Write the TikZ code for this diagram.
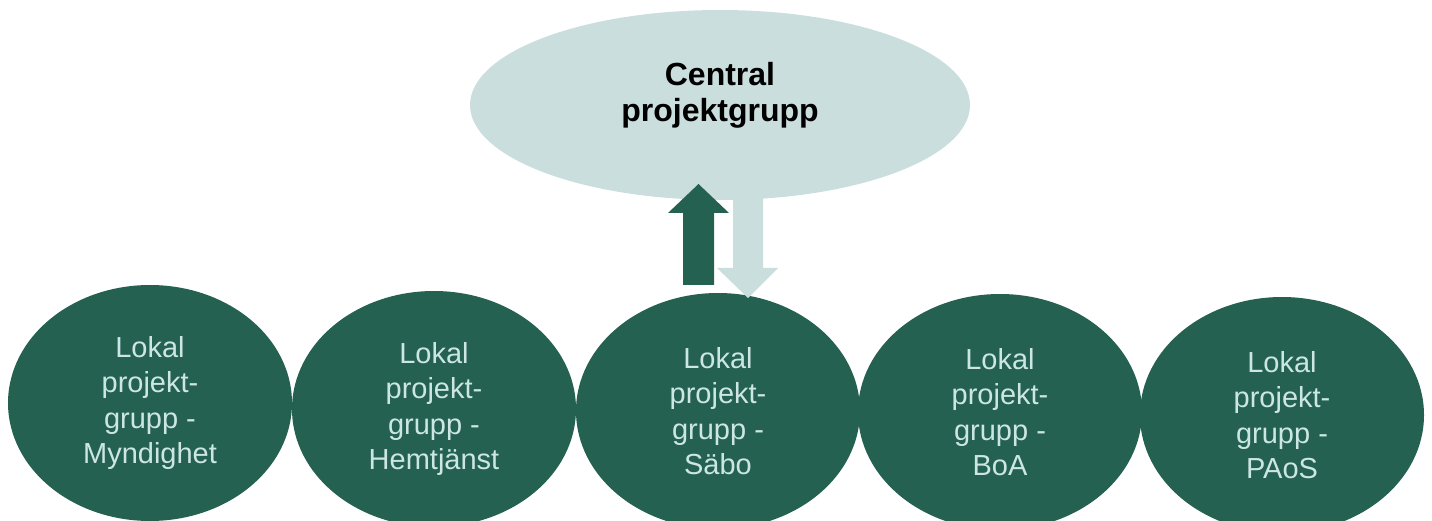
\documentclass[tikz,border=0pt]{standalone}
\usepackage{fontspec}
\setmainfont{Liberation Sans}
\usetikzlibrary{shapes.geometric}

\definecolor{deepgreen}{RGB}{36,97,80}
\definecolor{palegreen}{RGB}{202,223,221}
\definecolor{labelgreen}{RGB}{203,230,229}

\tikzset{
  localgroup/.style={ellipse, fill=deepgreen, draw=none, inner sep=0pt,
    minimum width=284pt, minimum height=236pt, align=center,
    text=labelgreen, font=\fontsize{29}{35.3}\selectfont},
  centralgroup/.style={ellipse, fill=palegreen, draw=none, inner sep=0pt,
    minimum width=500pt, minimum height=190pt},
  centrallabel/.style={align=center, text=black, inner sep=0pt,
    font=\fontsize{32}{36}\selectfont\bfseries},
  uparrowshape/.style={fill=deepgreen, draw=none},
  downarrowshape/.style={fill=palegreen, draw=none}
}

\begin{document}
\begin{tikzpicture}[x=1pt, y=-1pt]
  \useasboundingbox (0,0) rectangle (1432,521);

  % local project groups
  \node[localgroup] (myndighet) at (150,403) {Lokal\\projekt-\\grupp -\\Myndighet};
  \node[localgroup] (hemtjanst) at (434,409) {Lokal\\projekt-\\grupp -\\Hemtjänst};
  \node[localgroup] (sabo)      at (718,411) {Lokal\\projekt-\\grupp -\\Säbo};
  \node[localgroup] (boa)       at (1000,412) {Lokal\\projekt-\\grupp -\\BoA};
  \node[localgroup] (paos)      at (1282,415) {Lokal\\projekt-\\grupp -\\PAoS};

  % central project group
  \node[centralgroup] (central) at (720,105) {};
  \node[centrallabel] (centraltext) at ([yshift=10pt]central.center) {Central\\projektgrupp};

  % block arrow up: local -> central
  \coordinate (upbase) at (698.5,285);
  \fill[uparrowshape] (upbase) ++(-15.5,0) -- ++(0,-72) -- ++(-15,0)
    -- (698.5,184) -- (729,213) -- ++(-15,0) -- ++(0,72) -- cycle;

  % block arrow down: central -> local
  \coordinate (downbase) at (748,190);
  \fill[downarrowshape] (downbase) ++(-15,0) -- ++(0,78) -- ++(-16,0)
    -- (748,298) -- (778,268) -- ++(-15,0) -- ++(0,-78) -- cycle;
\end{tikzpicture}
\end{document}
